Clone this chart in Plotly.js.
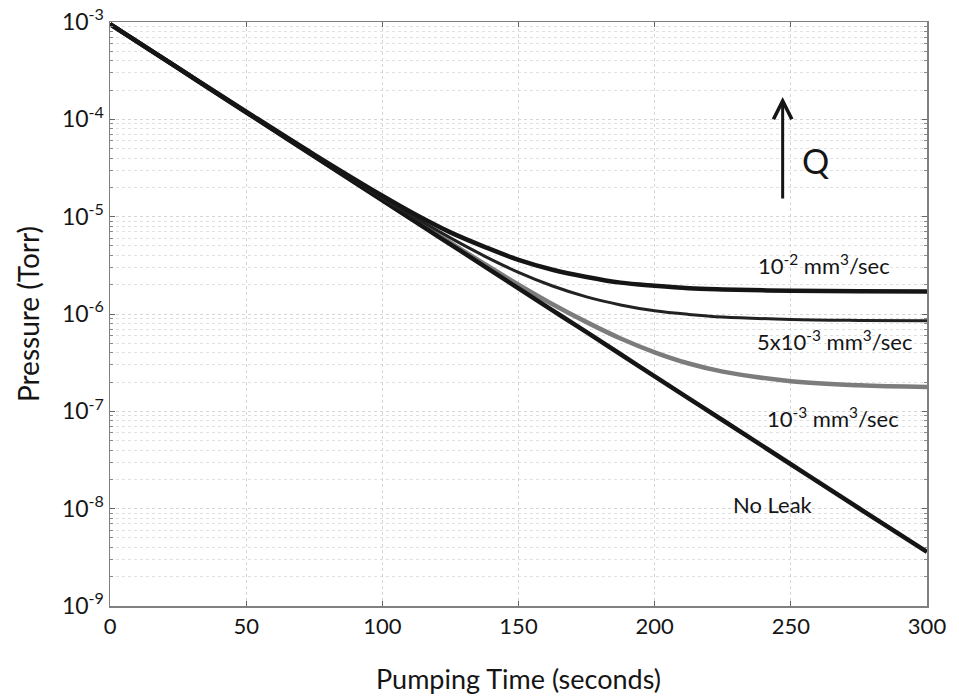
<!DOCTYPE html>
<html>
<head>
<meta charset="utf-8">
<script src="https://cdn.plot.ly/plotly-3.0.1.min.js"></script>
<style>html,body{margin:0;padding:0;background:#fff;}#chart{width:959px;height:698px;}</style>
</head>
<body>
<div id="chart"></div>
<script>
// Pumping time (s)
const time = [0, 25, 50, 75, 100, 112.5, 125, 137.5, 150, 162.5, 175, 187.5, 200, 212.5, 225, 250, 275, 300];
// Pressure (Torr)
const noLeak  = [9.5e-4, 3.35e-4, 1.18e-4, 4.17e-5, 1.47e-5, 8.73e-6, 5.2e-6, 3.09e-6, 1.83e-6, 1.09e-6, 6.5e-7, 3.86e-7, 2.29e-7, 1.36e-7, 8.1e-8, 2.86e-8, 1.01e-8, 3.6e-9];
const leak1e3 = [9.5e-4, 3.35e-4, 1.18e-4, 4.19e-5, 1.49e-5, 8.9e-6, 5.4e-6, 3.27e-6, 2.0e-6, 1.26e-6, 8.25e-7, 5.6e-7, 4.04e-7, 3.1e-7, 2.56e-7, 2.04e-7, 1.85e-7, 1.78e-7];
const leak5e3 = [9.5e-4, 3.36e-4, 1.19e-4, 4.25e-5, 1.56e-5, 9.6e-6, 6.05e-6, 3.94e-6, 2.68e-6, 1.94e-6, 1.5e-6, 1.24e-6, 1.08e-6, 9.9e-7, 9.3e-7, 8.8e-7, 8.6e-7, 8.5e-7];
const leak1e2 = [9.5e-4, 3.37e-4, 1.2e-4, 4.34e-5, 1.64e-5, 1.04e-5, 6.9e-6, 4.9e-6, 3.6e-6, 2.85e-6, 2.4e-6, 2.1e-6, 1.95e-6, 1.84e-6, 1.79e-6, 1.73e-6, 1.71e-6, 1.70e-6];

const xTicks = [0, 50, 100, 150, 200, 250, 300];
const yTickVals = [1e-9, 1e-8, 1e-7, 1e-6, 1e-5, 1e-4, 1e-3];
const yTickText = ['10<sup>-9</sup>', '10<sup>-8</sup>', '10<sup>-7</sup>', '10<sup>-6</sup>', '10<sup>-5</sup>', '10<sup>-4</sup>', '10<sup>-3</sup>'];

const seriesLabels = ['10<sup>-2</sup> mm<sup>3</sup>/sec', '5x10<sup>-3</sup> mm<sup>3</sup>/sec', '10<sup>-3</sup> mm<sup>3</sup>/sec', 'No Leak'];

const FONT = 'Lato, "Open Sans", sans-serif';
const INK = '#151515';

const traces = [
  {x: time, y: leak1e3, mode: 'lines', line: {color: '#7c7c7c', width: 4.5, shape: 'spline'}, name: '1e-3'},
  {x: time, y: noLeak, mode: 'lines', line: {color: '#151515', width: 4.5, shape: 'spline'}, name: 'none'},
  {x: time, y: leak5e3, mode: 'lines', line: {color: '#222', width: 3, shape: 'spline'}, name: '5e-3'},
  {x: time, y: leak1e2, mode: 'lines', line: {color: '#151515', width: 4.5, shape: 'spline'}, name: '1e-2'}
];

const layout = {
  width: 959, height: 698,
  margin: {l: 110, r: 32, t: 22, b: 92},
  paper_bgcolor: '#fff', plot_bgcolor: '#fff',
  showlegend: false,
  font: {family: FONT, color: INK},
  xaxis: {
    range: [0, 300], tickvals: xTicks, ticktext: xTicks.map(String),
    showgrid: true, gridcolor: '#d6d6d6', griddash: 'dot', gridwidth: 1,
    ticks: 'inside', ticklen: 5, tickcolor: '#666',
    showline: true, linecolor: '#808080', linewidth: 1.5, mirror: 'allticks',
    zeroline: false,
    tickfont: {size: 22, family: FONT, color: INK},
    title: {text: 'Pumping Time (seconds)', font: {size: 27, family: FONT, color: INK}, standoff: 32}
  },
  yaxis: {
    type: 'log', range: [-9, -3], tickvals: yTickVals, ticktext: yTickText,
    showgrid: true, gridcolor: '#d6d6d6', griddash: 'dot', gridwidth: 1,
    ticks: 'inside', ticklen: 5, tickcolor: '#666',
    minor: {dtick: 'D1', ticks: 'inside', ticklen: 3, tickcolor: '#888', showgrid: true, gridcolor: '#e0e0e0', griddash: 'dot'},
    showline: true, linecolor: '#808080', linewidth: 1.5, mirror: 'allticks',
    zeroline: false,
    tickfont: {size: 23, family: FONT, color: INK},
    title: {text: 'Pressure (Torr)', font: {size: 28, family: FONT, color: INK}, standoff: 14}
  },
  annotations: [
    {x: 262, y: -5.49, xref: 'x', yref: 'y', text: seriesLabels[0], showarrow: false, font: {size: 22, family: FONT, color: INK}},
    {x: 266, y: -6.27, xref: 'x', yref: 'y', text: seriesLabels[1], showarrow: false, font: {size: 22, family: FONT, color: INK}},
    {x: 265.5, y: -7.06, xref: 'x', yref: 'y', text: seriesLabels[2], showarrow: false, font: {size: 22, family: FONT, color: INK}},
    {x: 243.5, y: -7.96, xref: 'x', yref: 'y', text: seriesLabels[3], showarrow: false, font: {size: 22, family: FONT, color: INK}},
    {x: 247, y: -3.77, xref: 'x', yref: 'y', ax: 247, ay: -4.83, axref: 'x', ayref: 'y', text: '', showarrow: true, arrowhead: 5, arrowsize: 1.2, arrowwidth: 3, arrowcolor: INK},
    {x: 259, y: -4.42, xref: 'x', yref: 'y', text: 'Q', showarrow: false, font: {size: 34, family: FONT, color: INK}}
  ]
};

Plotly.newPlot('chart', traces, layout, {displayModeBar: false, staticPlot: true});
</script>
</body>
</html>
